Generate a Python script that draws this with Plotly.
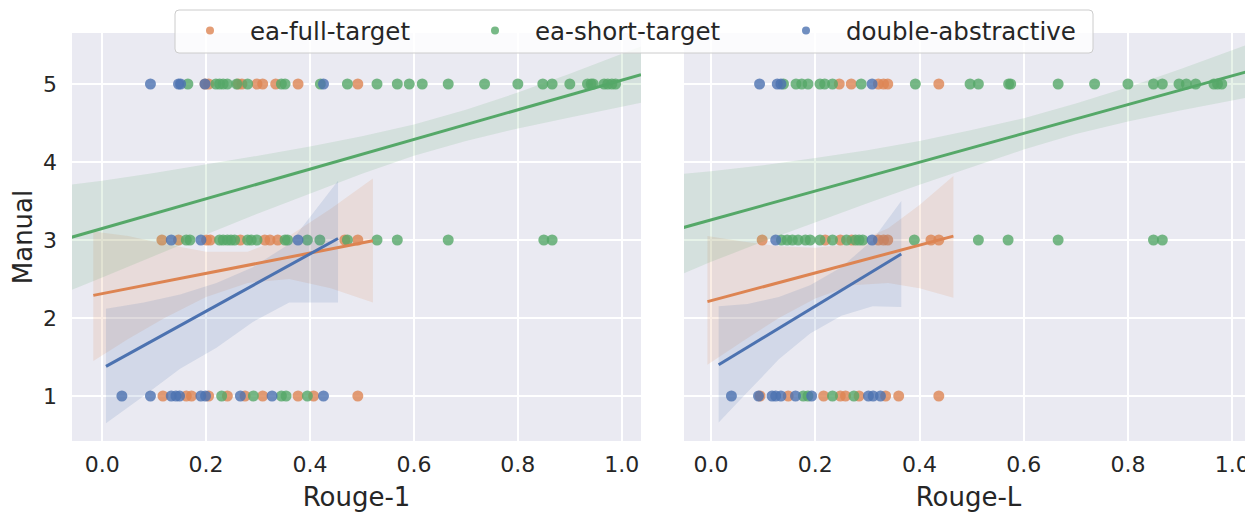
import plotly.graph_objects as go

# page is rendered with an 8px body margin, so the figure is sized/offset accordingly
OFF = 8
W, H = 1253 - OFF, 514 - OFF
ORANGE = '#DD8452'
GREEN = '#55A868'
BLUE = '#4C72B0'

series_names = ['ea-full-target', 'ea-short-target', 'double-abstractive']
manual_levels = [5, 3, 1]

# ---------------- Rouge-1 panel: x values of points at Manual = 5, 3, 1 ----------------
r1_full = {5: [0.198, 0.205, 0.262, 0.269, 0.298, 0.309, 0.334, 0.377, 0.492],
           3: [0.115, 0.147, 0.201, 0.208, 0.266, 0.313, 0.323, 0.338, 0.467, 0.492],
           1: [0.117, 0.162, 0.172, 0.205, 0.241, 0.275, 0.309, 0.377, 0.407, 0.492]}
r1_short = {5: [0.165, 0.219, 0.226, 0.233, 0.241, 0.259, 0.28, 0.345, 0.352, 0.42, 0.472,
                0.529, 0.568, 0.591, 0.616, 0.666, 0.736, 0.8, 0.848, 0.866, 0.9, 0.934,
                0.941, 0.945, 0.966, 0.973, 0.981, 0.988],
            3: [0.162, 0.169, 0.226, 0.233, 0.241, 0.248, 0.255, 0.28, 0.287, 0.298, 0.352,
                0.357, 0.395, 0.419, 0.472, 0.529, 0.568, 0.666, 0.85, 0.866],
            1: [0.23, 0.291, 0.345, 0.354, 0.395]}
r1_abs = {5: [0.093, 0.147, 0.151, 0.198, 0.426],
          3: [0.133, 0.19, 0.377],
          1: [0.038, 0.093, 0.133, 0.142, 0.149, 0.19, 0.199, 0.266, 0.327, 0.426]}

# ---------------- Rouge-L panel ----------------
rl_full = {5: [0.246, 0.269, 0.321, 0.331, 0.339, 0.437],
           3: [0.098, 0.219, 0.248, 0.27, 0.321, 0.331, 0.339, 0.422, 0.437],
           1: [0.094, 0.148, 0.216, 0.248, 0.258, 0.284, 0.335, 0.36, 0.437]}
rl_short = {5: [0.139, 0.163, 0.174, 0.186, 0.209, 0.218, 0.233, 0.288, 0.392, 0.497, 0.513,
                0.571, 0.575, 0.666, 0.736, 0.8, 0.849, 0.866, 0.898, 0.912, 0.93, 0.965,
                0.972, 0.98],
            3: [0.135, 0.146, 0.156, 0.167, 0.181, 0.19, 0.209, 0.233, 0.26, 0.277, 0.284,
                0.291, 0.39, 0.513, 0.57, 0.666, 0.849, 0.866],
            1: [0.177, 0.186, 0.233, 0.274]}
rl_abs = {5: [0.093, 0.127, 0.134, 0.309],
          3: [0.124, 0.309],
          1: [0.039, 0.091, 0.117, 0.124, 0.134, 0.162, 0.193, 0.302, 0.311, 0.325]}

# ---------------- regression fits with confidence bands ----------------
# Rouge-1
r1_full_line_x = [-0.017, 0.521]
r1_full_line_y = [2.29, 2.99]
r1_full_band_x = [-0.017, 0.05, 0.12, 0.2, 0.28, 0.36, 0.44, 0.521]
r1_full_band_hi = [3.11, 3.05, 2.95, 2.85, 2.85, 3.05, 3.40, 3.79]
r1_full_band_lo = [1.45, 1.73, 2.0, 2.27, 2.45, 2.50, 2.38, 2.20]

r1_short_line_x = [-0.062, 1.037]
r1_short_line_y = [3.03, 5.12]
r1_short_band_x = [-0.062, 0.0, 0.1, 0.2, 0.3, 0.4, 0.5, 0.6, 0.7, 0.8, 0.9, 1.037]
r1_short_band_hi = [3.71, 3.76, 3.86, 3.97, 4.08, 4.20, 4.33, 4.48, 4.67, 4.89, 5.13, 5.48]
r1_short_band_lo = [2.35, 2.52, 2.80, 3.07, 3.34, 3.60, 3.85, 4.08, 4.27, 4.43, 4.57, 4.76]

r1_abs_line_x = [0.0074, 0.454]
r1_abs_line_y = [1.38, 3.02]
r1_abs_band_x = [0.0074, 0.08, 0.15, 0.22, 0.29, 0.36, 0.454]
r1_abs_band_hi = [2.12, 2.2, 2.3, 2.45, 2.65, 2.95, 3.76]
r1_abs_band_lo = [0.65, 1.0, 1.35, 1.62, 1.95, 2.2, 2.2]

# Rouge-L
rl_full_line_x = [-0.007, 0.465]
rl_full_line_y = [2.21, 3.05]
rl_full_band_x = [-0.007, 0.06, 0.13, 0.2, 0.27, 0.34, 0.40, 0.465]
rl_full_band_hi = [3.05, 2.98, 2.92, 2.90, 2.95, 3.15, 3.45, 3.82]
rl_full_band_lo = [1.40, 1.70, 2.0, 2.25, 2.42, 2.45, 2.38, 2.26]

rl_short_line_x = [-0.053, 1.04]
rl_short_line_y = [3.16, 5.18]
rl_short_band_x = [-0.053, 0.0, 0.1, 0.2, 0.3, 0.4, 0.5, 0.6, 0.7, 0.8, 0.9, 1.04]
rl_short_band_hi = [3.85, 3.88, 3.96, 4.05, 4.15, 4.27, 4.41, 4.56, 4.75, 4.96, 5.19, 5.53]
rl_short_band_lo = [2.57, 2.72, 2.98, 3.23, 3.47, 3.71, 3.94, 4.16, 4.36, 4.52, 4.66, 4.84]

rl_abs_line_x = [0.0145, 0.365]
rl_abs_line_y = [1.40, 2.82]
rl_abs_band_x = [0.0145, 0.07, 0.13, 0.19, 0.25, 0.31, 0.365]
rl_abs_band_hi = [2.15, 2.18, 2.27, 2.42, 2.65, 3.0, 3.5]
rl_abs_band_lo = [0.66, 1.05, 1.47, 1.80, 2.03, 2.15, 2.14]

x_ticks = [0.0, 0.2, 0.4, 0.6, 0.8, 1.0]
x_tick_text = ['0.0', '0.2', '0.4', '0.6', '0.8', '1.0']
y_ticks = [1, 2, 3, 4, 5]
y_tick_text = ['1', '2', '3', '4', '5']

# ---------------------------------------------------------------------------
FONT = 'DejaVu Sans'
TXT = '#262626'


def rgba(hexc, a):
    h = hexc.lstrip('#')
    r, g, b = int(h[0:2], 16), int(h[2:4], 16), int(h[4:6], 16)
    return f'rgba({r},{g},{b},{a})'


def px_x(p):
    return (p - OFF) / W


def px_y(p):
    return 1 - (p - OFF) / H


fig = go.Figure()

panels = [
    ('x', 'y', [(r1_full, ORANGE, (r1_full_line_x, r1_full_line_y, r1_full_band_x, r1_full_band_hi, r1_full_band_lo)),
                (r1_short, GREEN, (r1_short_line_x, r1_short_line_y, r1_short_band_x, r1_short_band_hi, r1_short_band_lo)),
                (r1_abs, BLUE, (r1_abs_line_x, r1_abs_line_y, r1_abs_band_x, r1_abs_band_hi, r1_abs_band_lo))]),
    ('x2', 'y2', [(rl_full, ORANGE, (rl_full_line_x, rl_full_line_y, rl_full_band_x, rl_full_band_hi, rl_full_band_lo)),
                  (rl_short, GREEN, (rl_short_line_x, rl_short_line_y, rl_short_band_x, rl_short_band_hi, rl_short_band_lo)),
                  (rl_abs, BLUE, (rl_abs_line_x, rl_abs_line_y, rl_abs_band_x, rl_abs_band_hi, rl_abs_band_lo))]),
]

for xa, ya, groups in panels:
    for pts, col, (lx, ly, bx, bhi, blo) in groups:
        xs, ys = [], []
        for lev in manual_levels:
            xs += pts[lev]
            ys += [lev] * len(pts[lev])
        fig.add_trace(go.Scatter(x=xs, y=ys, mode='markers', xaxis=xa, yaxis=ya,
                                 marker=dict(color=col, size=11, opacity=0.8, line=dict(width=0)),
                                 showlegend=False, hoverinfo='skip'))
        fig.add_trace(go.Scatter(x=list(bx) + list(bx)[::-1], y=list(bhi) + list(blo)[::-1],
                                 mode='lines', fill='toself', fillcolor=rgba(col, 0.15),
                                 line=dict(width=0, color=rgba(col, 0)), xaxis=xa, yaxis=ya,
                                 showlegend=False, hoverinfo='skip'))
    for pts, col, (lx, ly, bx, bhi, blo) in groups:
        fig.add_trace(go.Scatter(x=lx, y=ly, mode='lines', xaxis=xa, yaxis=ya,
                                 line=dict(color=col, width=3),
                                 showlegend=False, hoverinfo='skip'))

# one legend per entry so each entry sits where the reference shows it
legend_ids = ['legend', 'legend2', 'legend3']
legend_left_px = [170, 455, 766]
for name, col, lid in zip(series_names, [ORANGE, GREEN, BLUE], legend_ids):
    fig.add_trace(go.Scatter(x=[None], y=[None], mode='markers', name=name, legend=lid,
                             marker=dict(color=col, size=8, opacity=0.8), xaxis='x', yaxis='y'))

# legend frame (rounded rectangle, drawn as a shape above the plots)
L, R, T, B, RAD = 175, 1093, 10, 53, 4
fx = px_x
fy = px_y
frame_path = (f"M {fx(L + RAD)},{fy(T)} L {fx(R - RAD)},{fy(T)} Q {fx(R)},{fy(T)} {fx(R)},{fy(T + RAD)} "
              f"L {fx(R)},{fy(B - RAD)} Q {fx(R)},{fy(B)} {fx(R - RAD)},{fy(B)} "
              f"L {fx(L + RAD)},{fy(B)} Q {fx(L)},{fy(B)} {fx(L)},{fy(B - RAD)} "
              f"L {fx(L)},{fy(T + RAD)} Q {fx(L)},{fy(T)} {fx(L + RAD)},{fy(T)} Z")

y_dom = [px_y(441), px_y(33)]
axis_common = dict(showgrid=True, gridcolor='white', gridwidth=1.6, zeroline=False,
                   showline=False, ticks='', automargin=False,
                   tickfont=dict(family=FONT, size=22, color=TXT))

legend_layouts = {}
for lid, lx in zip(legend_ids, legend_left_px):
    legend_layouts[lid] = dict(orientation='h', x=px_x(lx), xanchor='left', y=px_y(8), yanchor='top',
                               bgcolor='rgba(0,0,0,0)', borderwidth=0,
                               font=dict(family=FONT, size=24.5, color=TXT), itemwidth=70)

fig.update_layout(
    width=W, height=H,
    margin=dict(l=0, r=0, t=0, b=0),
    paper_bgcolor='white', plot_bgcolor='#EAEAF2',
    font=dict(family=FONT, color=TXT),
    xaxis=dict(domain=[px_x(72), px_x(641)], range=[-0.058, 1.037], tickvals=x_ticks, ticktext=x_tick_text,
               title=dict(text='Rouge-1', font=dict(family=FONT, size=26, color=TXT), standoff=11),
               ticklabelstandoff=8, anchor='y', **axis_common),
    xaxis2=dict(domain=[px_x(684), 1.0], range=[-0.052, 1.04], tickvals=x_ticks, ticktext=x_tick_text,
                title=dict(text='Rouge-L', font=dict(family=FONT, size=26, color=TXT), standoff=11),
                ticklabelstandoff=8, anchor='y2', **axis_common),
    yaxis=dict(domain=y_dom, range=[0.423, 5.654], tickvals=y_ticks, ticktext=y_tick_text,
               title=dict(text='Manual', font=dict(family=FONT, size=26, color=TXT), standoff=3),
               ticklabelstandoff=14, anchor='x', **axis_common),
    yaxis2=dict(domain=y_dom, range=[0.423, 5.654], tickvals=y_ticks, showticklabels=False,
                anchor='x2', **axis_common),
    shapes=[dict(type='path', xref='paper', yref='paper', path=frame_path, layer='above',
                 fillcolor='rgba(255,255,255,0.8)', line=dict(color='#CCCCCC', width=1))],
    **legend_layouts,
)

fig.write_html('out.html')
